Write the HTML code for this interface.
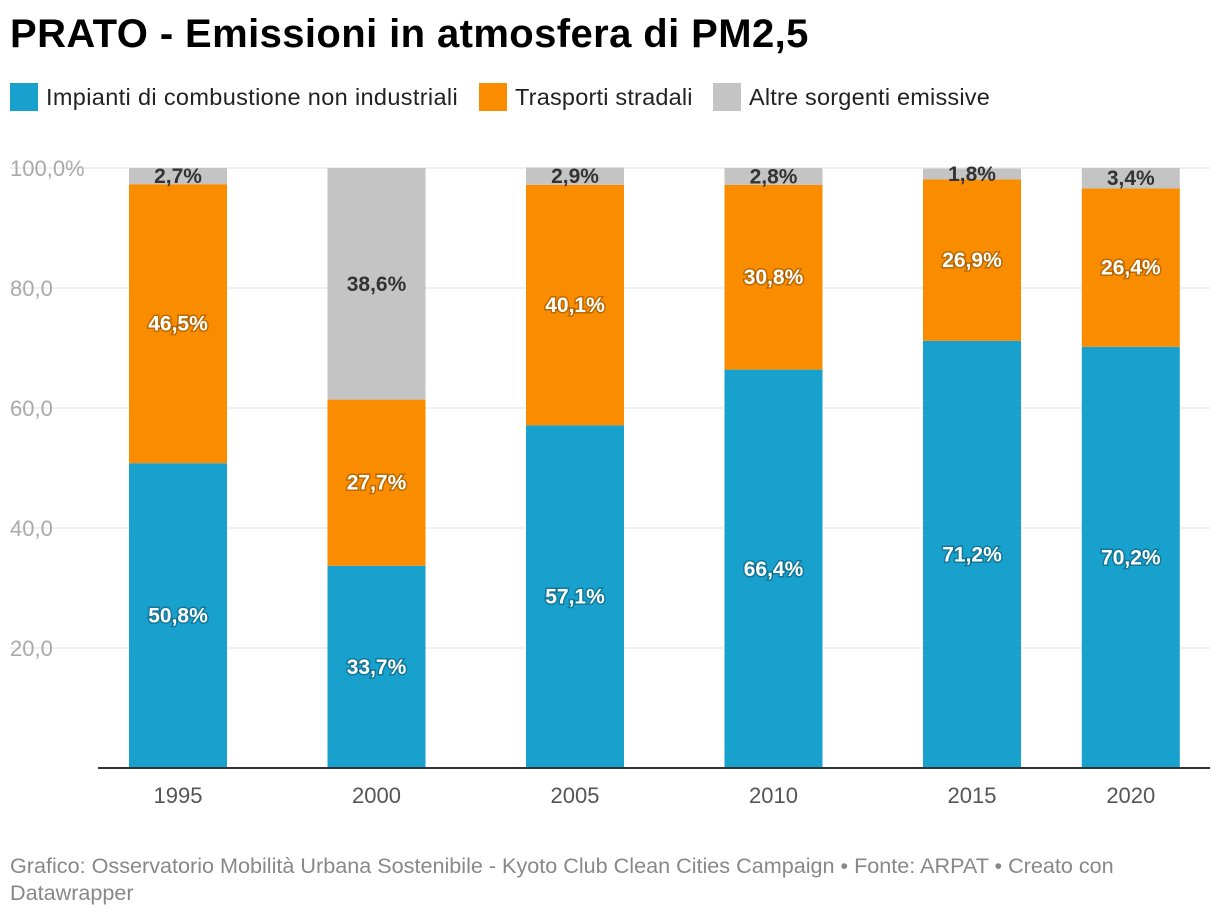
<!DOCTYPE html>
<html><head><meta charset="utf-8"><style>
body{margin:0;background:#fff;font-family:"Liberation Sans",Arial,sans-serif;}
#wrap{position:relative;width:1220px;height:916px;overflow:hidden;}
h1{position:absolute;left:10px;top:12px;margin:0;font-size:40px;font-weight:bold;color:#000;letter-spacing:0.4px}
.leg{position:absolute;top:83px;display:flex;align-items:center;font-size:23.5px;color:#222}
.leg i{display:inline-block;width:28px;height:28px;margin-right:8px}
#foot{position:absolute;left:10px;top:852px;font-size:21.6px;color:#888;line-height:27px;width:1120px}
</style></head><body><div id="wrap">
<h1>PRATO - Emissioni in atmosfera di PM2,5</h1>
<div class="leg" style="left:10px;letter-spacing:0.35px"><i style="background:#18a1cd"></i>Impianti di combustione non industriali</div>
<div class="leg" style="left:479px;letter-spacing:0.2px"><i style="background:#fa8c00"></i>Trasporti stradali</div>
<div class="leg" style="left:713px;letter-spacing:0.2px"><i style="background:#c4c4c4"></i>Altre sorgenti emissive</div>
<svg id="svg" width="1220" height="916" style="position:absolute;left:0;top:0"></svg>
<div id="foot">Grafico: Osservatorio Mobilità Urbana Sostenibile - Kyoto Club Clean Cities Campaign • Fonte: ARPAT • Creato con Datawrapper</div>
</div>
<script>
const yearLabels=["1995","2000","2005","2010","2015","2020"];
const yearPos=[1995,2000,2005,2010,2015,2019];
const impianti=[50.8,33.7,57.1,66.4,71.2,70.2];
const trasporti=[46.5,27.7,40.1,30.8,26.9,26.4];
const altre=[2.7,38.6,2.9,2.8,1.8,3.4];
const yTicks=[20,40,60,80,100];
const svg=document.getElementById('svg');const NS='http://www.w3.org/2000/svg';
const y=v=>768-v*6;
const x=t=>178+(t-1995)*39.7;
const bw=98;
function mk(tag,attrs){const e=document.createElementNS(NS,tag);for(const k in attrs)e.setAttribute(k,attrs[k]);svg.appendChild(e);return e;}
const fmt=v=>v.toFixed(1).replace('.',',');
yTicks.forEach(t=>{
 const l=mk('line',{x1:10,x2:1210,y1:y(t),y2:y(t),stroke:'#e2e2e2','stroke-width':1});
 
 
 const tx=mk('text',{x:10,y:y(t)+8,'font-size':22,fill:'#aaa'});
 tx.textContent=fmt(t)+(t===100?'%':'');
 
 
});
const series=[[impianti,'#18a1cd','#fff','impianti'],[trasporti,'#fa8c00','#fff','trasporti'],[altre,'#c4c4c4','#333','altre']];
yearLabels.forEach((lab,i)=>{
 const cx=x(yearPos[i]);let base=0;
 series.forEach(([arr,col,tc,nm])=>{
  const v=arr[i];
  const r=mk('rect',{x:cx-bw/2,y:y(base+v),width:bw,height:v*6,fill:col});
  
  
  const t=mk('text',{x:cx,y:y(base+v/2)+7,'text-anchor':'middle','font-size':21,'font-weight':'bold',fill:tc});
  if(tc==='#fff'){t.setAttribute('stroke','rgba(0,0,0,0.25)');t.setAttribute('stroke-width','3');t.setAttribute('paint-order','stroke');}
  t.textContent=v.toFixed(1).replace('.',',')+'%';
  
  
  base+=v;
 });
 const xl=mk('text',{x:cx,y:803,'text-anchor':'middle','font-size':22,fill:'#555'});
 xl.textContent=lab;
 
 
});
const ax=mk('line',{x1:98,x2:1210,y1:768,y2:768,stroke:'#333','stroke-width':2});


</script></body></html>
